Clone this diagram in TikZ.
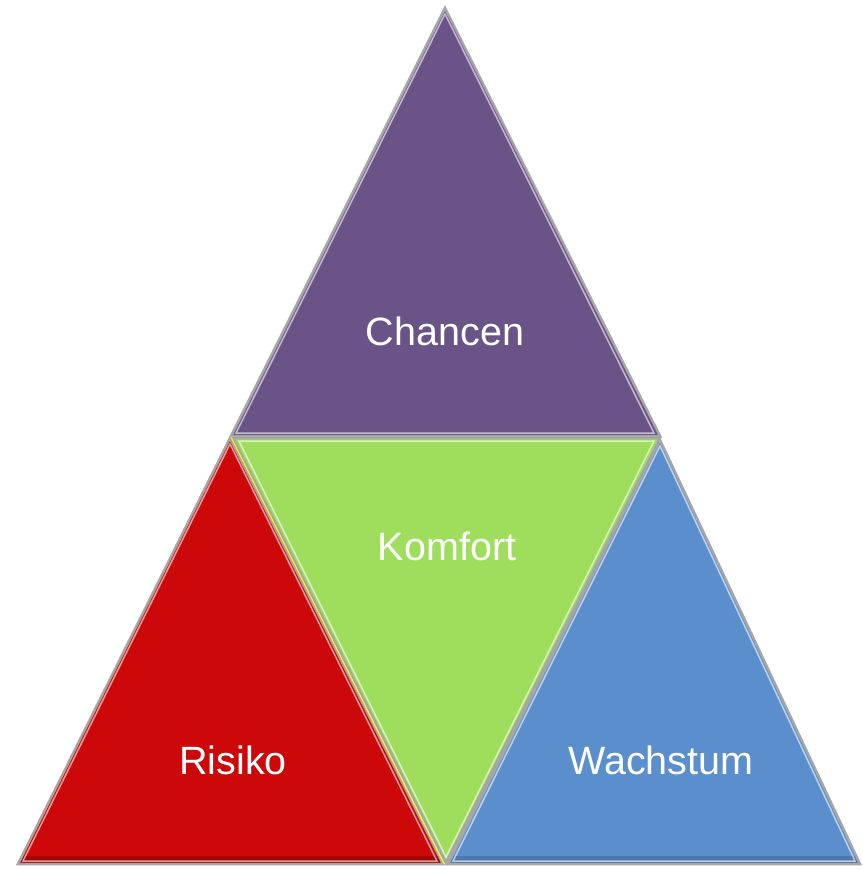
\documentclass[tikz,border=0pt]{standalone}
\usepackage{fontspec}
\setmainfont{Liberation Sans}
\definecolor{cpurple}{HTML}{6A5387}
\definecolor{cred}{HTML}{CC0808}
\definecolor{cgreen}{HTML}{9EDE5C}
\definecolor{cblue}{HTML}{5A8ECD}
\begin{document}
\begin{tikzpicture}[x=1pt,y=-1pt,
  tri/.style={draw=gray!70,line width=2.5pt,line join=miter},
  hl/.style={draw=white,line width=1.5pt,opacity=0.6},
  lbl/.style={text=white,font=\fontsize{39.5}{41}\selectfont}]
\useasboundingbox (0,0) rectangle (862,870);
% Chancen
\fill[cpurple] (445,8) -- (660,436) -- (231,436) -- cycle;
\draw[tri] (445,8) -- (660,436) -- (231,436) -- cycle;
\draw[hl] (445,14) -- (654,433) -- (236,433) -- cycle;
\node[lbl] (chancen) at (445,331) {Chancen};
% Risiko
\fill[cred] (230,438) -- (443,864) -- (18,864) -- cycle;
\fill[black,opacity=0.18] (21,856) -- (439,856) -- (443,864) -- (18,864) -- cycle;
\draw[tri] (230,438) -- (443,864) -- (18,864) -- cycle;
\draw[hl] (230,444) -- (437,861) -- (23,861) -- cycle;
\node[lbl] (risiko) at (233,760) {Risiko};
% Komfort
\fill[cgreen] (233,438) -- (660,438) -- (446,863) -- cycle;
\draw[tri] (233,438) -- (660,438) -- (446,863) -- cycle;
\draw[hl] (239,441) -- (654,441) -- (446,857) -- cycle;
\draw[draw=yellow,line width=1pt] (231,437) -- (444,864);
\node[lbl] (komfort) at (447,546) {Komfort};
% Wachstum
\fill[cblue] (660,440) -- (860,864) -- (448,864) -- cycle;
\fill[black,opacity=0.15] (656,856) -- (856,856) -- (860,864) -- (448,864) -- (452,856) -- cycle;
\draw[tri] (660,440) -- (860,864) -- (448,864) -- cycle;
\draw[hl] (660,446) -- (855,861) -- (453,861) -- cycle;
\node[lbl] (wachstum) at (661,760) {Wachstum};
\end{tikzpicture}
\end{document}
